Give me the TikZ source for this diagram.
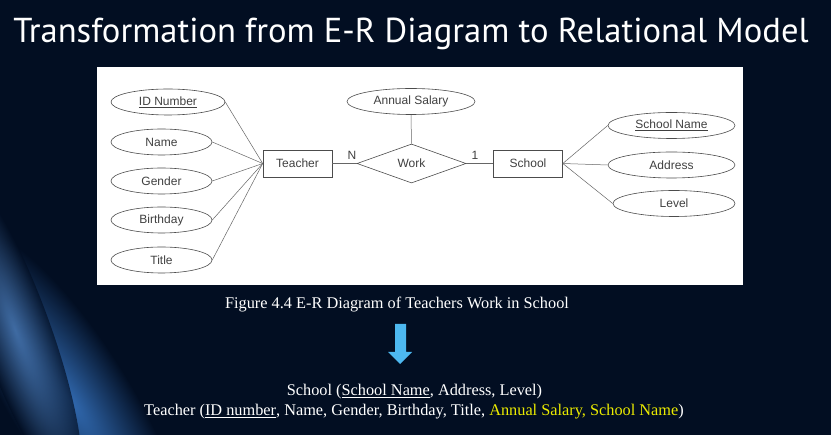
\documentclass[tikz,border=0pt]{standalone}
\usepackage{fontspec}
\setmainfont{Liberation Serif}
\setsansfont{Liberation Sans}
\newfontfamily\titlefont{PT Sans}
\usetikzlibrary{shapes.geometric}

\definecolor{slidebg}{HTML}{020E22}
\definecolor{glowblue}{HTML}{3068AE}
\definecolor{attrgray}{HTML}{404040}
\definecolor{arrowblue}{HTML}{4DB8F0}
\definecolor{keyyellow}{HTML}{EBEB00}

\begin{document}
\begin{tikzpicture}[x=1pt,y=-1pt,
    attr/.style={ellipse, draw=black!70, line width=0.6pt, inner sep=0pt,
      minimum height=26, text=attrgray,
      font=\sffamily\fontsize{12}{12}\selectfont},
    entity/.style={rectangle, draw=black!70, line width=0.6pt, inner sep=0pt,
      minimum width=69, minimum height=27, text=attrgray,
      font=\sffamily\fontsize{12}{12}\selectfont},
    relation/.style={diamond, draw=black!70, line width=0.6pt, inner sep=0pt,
      aspect=2.8, minimum width=109, minimum height=39, text=attrgray,
      font=\sffamily\fontsize{12}{12}\selectfont},
    link/.style={draw=black!60, line width=0.5pt},
    slidetext/.style={text=white, font=\fontsize{16.3}{20}\selectfont}]

  % Background
  \useasboundingbox (0,0) rectangle (831,435);
  \fill[slidebg] (0,0) rectangle (831,435);
  \begin{scope}
    \clip (0,0) rectangle (831,435);
    \begin{scope}[transform canvas={rotate around={-58:(70,400)}}]
      \shade[inner color=glowblue, outer color=slidebg]
        (70,400) ellipse (200 and 60);
    \end{scope}
    \begin{scope}[transform canvas={rotate around={-70:(15,330)}}]
      \shade[inner color=glowblue!85, outer color=slidebg, opacity=0.7]
        (15,330) ellipse (170 and 35);
    \end{scope}
  \end{scope}

  % Title
  \node[text=white, font=\titlefont\fontsize{34.6}{34.6}\selectfont, anchor=base]
    (title) at (411,43) {Transformation from E-R Diagram to Relational Model};

  % Figure panel
  \fill[white] (97,67) rectangle (743,285);

  % Teacher attributes
  \node[attr, minimum width=114] (idnum)  at (168,102) {\underline{ID Number}};
  \node[attr, minimum width=101] (name)   at (161.5,142) {Name};
  \node[attr, minimum width=101] (gender) at (161.5,181) {Gender};
  \node[attr, minimum width=101] (birth)  at (161.5,220) {Birthday};
  \node[attr, minimum width=101] (title)  at (161.5,260) {Title};

  % Entities and relationship
  \node[entity] (teacher) at (297.5,163.5) {Teacher};
  \node[relation] (work) at (411.5,163.5) {Work};
  \node[entity] (school) at (528,163.5) {School};
  \node[attr, minimum width=128] (salary) at (411,101.5) {Annual Salary};

  % School attributes
  \node[attr, minimum width=127] (sname) at (671.5,125.5) {\underline{School Name}};
  \node[attr, minimum width=127] (addr)  at (671.5,165) {Address};
  \node[attr, minimum width=122] (level) at (674,203.5) {Level};

  % Cardinalities
  \node[text=attrgray, font=\sffamily\fontsize{12}{12}\selectfont] (card1) at (352,155) {N};
  \node[text=attrgray, font=\sffamily\fontsize{12}{12}\selectfont] (card2) at (475,155) {1};

  \foreach \a in {idnum,name,gender,birth,title}
    \draw[link] (\a.east) -- (teacher.west);
  \foreach \a in {sname,addr,level}
    \draw[link] (school.east) -- (\a.west);
  \draw[link] (teacher.east) -- (work.west);
  \draw[link] (work.east) -- (school.west);
  \draw[link] (salary.south) -- (work.north);

  % Caption
  \node[slidetext] (caption) at (397,305) {Figure 4.4 E-R Diagram of Teachers Work in School};

  % Down arrow
  \fill[arrowblue] (395,324) -- (406,324) -- (406,352) -- (412,352) -- (400,364)
    -- (388,352) -- (395,352) -- cycle;

  % Relational model
  \node[slidetext] (rel1) at (414.5,392) {School (\underline{School Name}, Address, Level)};
  \node[slidetext] (rel2) at (414,412) {Teacher (\underline{ID number}, Name, Gender, Birthday, Title,
    \textcolor{keyyellow}{Annual Salary, School Name})};
\end{tikzpicture}
\end{document}
